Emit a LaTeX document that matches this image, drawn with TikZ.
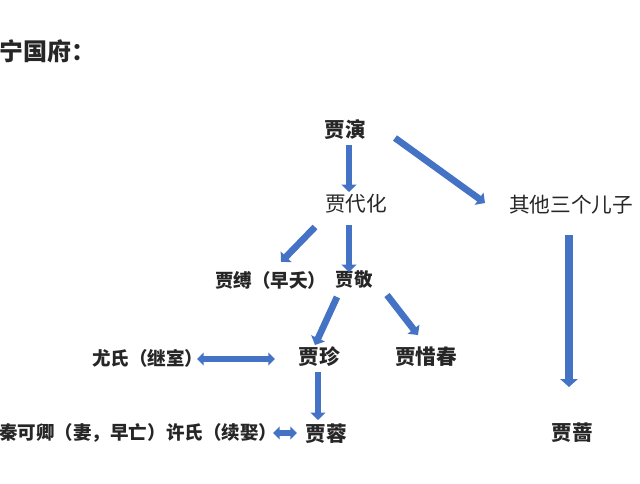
\documentclass[tikz,border=0pt]{standalone}
\usepackage{fontspec}
\setmainfont{Noto Sans CJK SC}
\usetikzlibrary{arrows.meta,calc}
\definecolor{ablue}{HTML}{4472C4}
\definecolor{txt}{HTML}{262626}
\begin{document}
\begin{tikzpicture}[x=0.75pt,y=-0.75pt,
  every node/.style={inner sep=0pt,text=txt},
  big/.style={font=\fontsize{15.5pt}{16pt}\selectfont\bfseries},
  mid/.style={font=\fontsize{15.5pt}{16pt}\selectfont},
  sml/.style={font=\fontsize{13.9pt}{14pt}\selectfont\bfseries},
  blk/.style={draw=ablue,line width=5pt,-{Triangle[length=5.5pt,width=11pt]}},
  blkb/.style={draw=ablue,line width=6pt,-{Triangle[length=6pt,width=13pt]}},
  dbl/.style={draw=ablue,line width=4pt,{Triangle[length=5pt,width=9.5pt]}-{Triangle[length=5pt,width=9.5pt]}}
]
\useasboundingbox (0,0) rectangle (640,483);
\node[anchor=west,font=\fontsize{18pt}{18pt}\selectfont\bfseries] (title) at (-1,51) {宁国府：};
\node[big] (yy) at (345,130) {贾演};
\node[mid] (dh) at (356,204) {贾代化};
\node[mid] (qt) at (571,205) {其他三个儿子};
\node[sml,anchor=west] (jf) at (215,280) {贾缚（早夭）};
\node[sml] (jj) at (354,280) {贾敬};
\node[big] (jz) at (319,357) {贾珍};
\node[big] (xc) at (426,357) {贾惜春};
\node[sml,anchor=west] (ys) at (92,358) {尤氏（继室）};
\node[sml,anchor=west] (qk) at (-1,433) {秦可卿（妻，早亡）许氏（续娶）};
\node[big] (jr) at (326,434) {贾蓉};
\node[big] (jq) at (572,433) {贾蔷};
% arrows
\draw[blk] ($(yy)+(4,15)$) -- ($(dh)+(-7,-12)$);
\draw[blk] ($(yy)+(50,8)$) -- ($(qt)+(-86,-2)$);
\draw[blk] ($(dh)+(-41,23)$) -- ($(jf.west)+(66,-18)$);
\draw[blk] ($(dh)+(-7,21)$) -- ($(jj)+(-5,-8)$);
\draw[blk] ($(jj)+(-17,17)$) -- ($(jz)+(-4,-12)$);
\draw[blk] ($(jj)+(33,15)$) -- ($(xc)+(-8,-22)$);
\draw[dbl] ($(ys.west)+(105,1)$) -- ($(jz)+(-44,2)$);
\draw[blk] ($(jz)+(-1,15)$) -- ($(jr)+(-8,-14)$);
\draw[dbl] ($(qk.west)+(274,0)$) -- ($(jr)+(-29,-1)$);
\draw[blkb] ($(qt)+(-2,30)$) -- ($(jq)+(-3,-46)$);
\end{tikzpicture}
\end{document}
